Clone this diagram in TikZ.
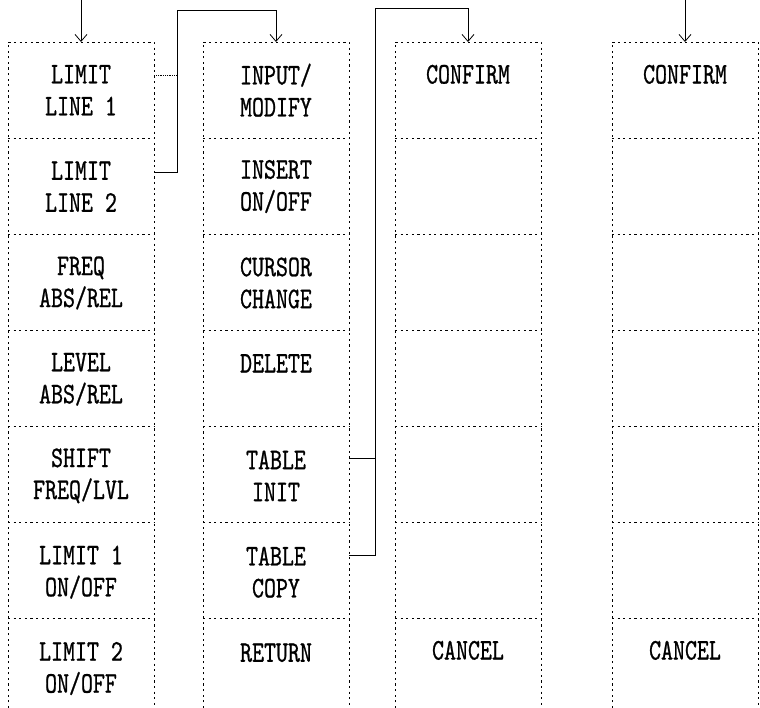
\documentclass[tikz,border=0pt]{standalone}
\usepackage{fontspec}
\usetikzlibrary{positioning, arrows.meta}
\newfontfamily\keyfont{lmmono10-regular.otf}[FakeStretch=0.76, FakeBold=0.8]
\tikzset{
  every node/.style={font=\keyfont\fontsize{30}{32}\selectfont},
  frame/.style={dash pattern=on 2.2pt off 3.4pt, line width=0.7pt},
  softkey/.style={minimum width=146pt, minimum height=96pt, inner sep=0pt,
                  align=center, anchor=north},
  wire/.style={line width=0.8pt},
  feed/.style={wire, -{Straight Barb[length=7pt, width=12pt]}},
}

\begin{document}
\begin{tikzpicture}[x=1pt, y=-1pt]
  \useasboundingbox (0,0) rectangle (760,708);
  % dashed key columns, open at the bottom
  \foreach \x in {8,203,395,612} {
    \draw[frame] (\x,708) -- (\x,42) -- (\x+146,42) -- (\x+146,708);
    \foreach \y in {138,234,330,426,522,618}
      \draw[frame] (\x,\y) -- (\x+146,\y);
  }
  % first column
  \node[softkey] (ll1) at (81,42) {LIMIT\\LINE 1};
  \node[softkey, below=0pt of ll1] (ll2) {LIMIT\\LINE 2};
  \node[softkey, below=0pt of ll2] (frq) {FREQ\\ABS/REL};
  \node[softkey, below=0pt of frq] (lvl) {LEVEL\\ABS/REL};
  \node[softkey, below=0pt of lvl] (shf) {SHIFT\\FREQ/LVL};
  \node[softkey, below=0pt of shf] (lm1) {LIMIT 1\\ON/OFF};
  \node[softkey, below=0pt of lm1] (lm2) {LIMIT 2\\ON/OFF};
  % second column
  \node[softkey] (inp) at (276,42) {INPUT/\\MODIFY};
  \node[softkey, below=0pt of inp] (ins) {INSERT\\ON/OFF};
  \node[softkey, below=0pt of ins] (cur) {CURSOR\\CHANGE};
  \node[softkey, below=0pt of cur] (del) {DELETE\\\phantom{X}};
  \node[softkey, below=0pt of del] (tin) {TABLE\\INIT};
  \node[softkey, below=0pt of tin] (tcp) {TABLE\\COPY};
  \node[softkey, below=0pt of tcp] (ret) {RETURN\\\phantom{X}};
  % confirm columns
  \node[softkey] (cfa) at (468,42) {CONFIRM\\\phantom{X}};
  \node[softkey] (cna) at (468,618) {CANCEL\\\phantom{X}};
  \node[softkey] (cfb) at (685,42) {CONFIRM\\\phantom{X}};
  \node[softkey] (cnb) at (685,618) {CANCEL\\\phantom{X}};
  % connectors
  \coordinate (topA) at (81,0);
  \coordinate (topB) at (685,0);
  \coordinate (busA) at (177,10);
  \coordinate (busB) at (375,8);
  \coordinate (o1) at ([yshift=-33pt]ll1.north east);
  \coordinate (o2) at ([yshift=-34pt]ll2.north east);
  \coordinate (o3) at ([yshift=-31pt]tin.north east);
  \coordinate (o4) at ([yshift=-31pt]tcp.north east);
  \draw[feed] (topA) -- (ll1.north);
  \draw[feed] (topB) -- (cfb.north);
  \draw[wire, densely dotted] (o1) -- (o1 -| busA);
  \draw[feed] (o2) -| (busA) -| (inp.north);
  \draw[wire] (o3) -- (o3 -| busB);
  \draw[feed] (o4) -| (busB) -| (cfa.north);
\end{tikzpicture}
\end{document}
